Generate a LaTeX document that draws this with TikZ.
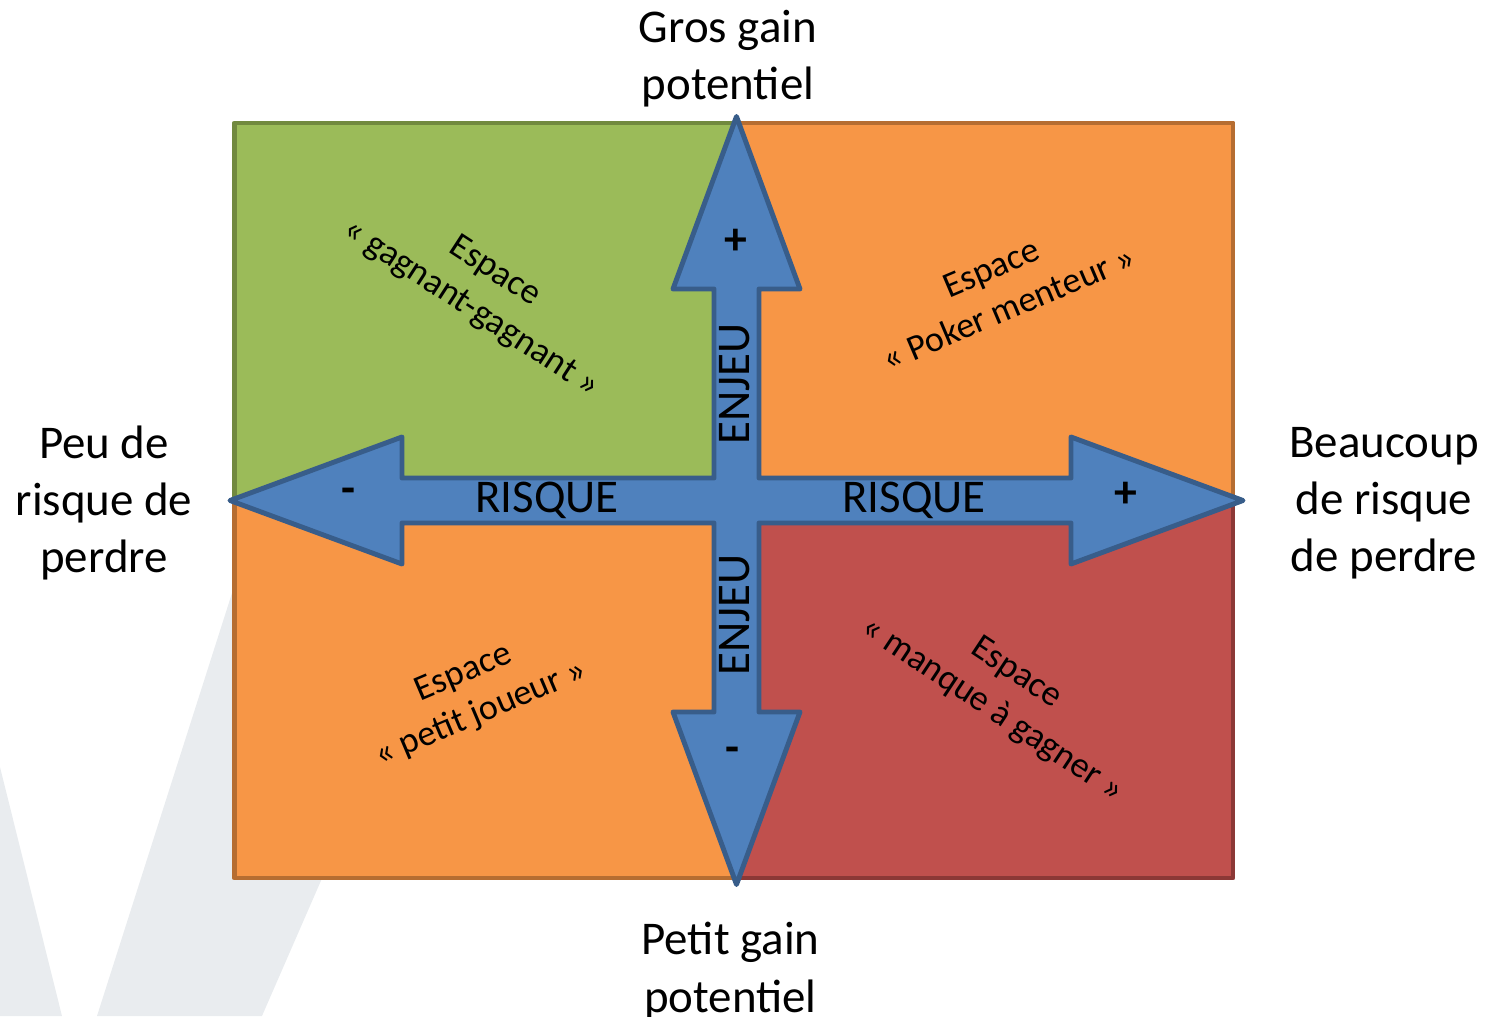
\documentclass[tikz,border=0pt]{standalone}
\usepackage{fontspec}
\setmainfont{Carlito}
\usepackage{tikz}
\usetikzlibrary{calc, positioning}
\usepackage{xcolor}

\definecolor{vert}{HTML}{9BBB59}
\definecolor{vertbord}{HTML}{71893F}
\definecolor{orange}{HTML}{F79646}
\definecolor{orangebord}{HTML}{B66D31}
\definecolor{rouge}{HTML}{C0504D}
\definecolor{rougebord}{HTML}{8C3836}
\definecolor{bleu}{HTML}{4F81BD}
\definecolor{bleubord}{HTML}{385D8A}
\definecolor{filigrane}{RGB}{233,236,239}

\begin{document}
\begin{tikzpicture}[line join=round]
				\tikzstyle{zone} = [line width=2.8pt]
				\tikzstyle{fleche} = [line width=2.8pt, fill=bleu, draw=bleubord]
				\tikzstyle{grand} = [draw=none, align=center, font=\fontsize{26.7}{32.5}\selectfont]
				\tikzstyle{axe} = [draw=none, font=\fontsize{26.7}{32.5}\selectfont]
				\tikzstyle{signe} = [draw=none, font=\fontsize{26}{30}\selectfont\bfseries]
				\tikzstyle{espace} = [draw=none, align=center, font=\fontsize{20.5}{25}\selectfont]
				
				\useasboundingbox (-14.73,-10.31) rectangle (15.15,10.01);
				
				% filigrane
				\fill[filigrane] (-14.73,-5.33) -- (-13.49,-10.31) -- (-14.73,-10.31) -- cycle;
				\fill[filigrane] (-10.07,-1.79) -- (-12.79,-10.31) -- (-9.49,-10.31) -- (-8.13,-7.19) -- (-6.73,-1.99) -- cycle;
				
				% les quatre espaces
				\filldraw[zone, fill=vert, draw=vertbord]		(-10.04,0) rectangle (0,7.55);
				\filldraw[zone, fill=orange, draw=orangebord]	(0,-0.1) rectangle (9.93,7.55);
				\filldraw[zone, fill=orange, draw=orangebord]	(-10.04,-7.55) rectangle (0,0);
				\filldraw[zone, fill=rouge, draw=rougebord]		(0,-7.55) rectangle (9.93,-0.1);
				
				% la croix
				\filldraw[fleche] (0,7.68) -- (1.27,4.23) -- (0.45,4.23) -- (0.45,0.45) -- (6.69,0.45) -- (6.69,1.27)
					-- (10.13,0) -- (6.69,-1.27) -- (6.69,-0.45) -- (0.45,-0.45) -- (0.45,-4.23) -- (1.27,-4.23)
					-- (0,-7.68) -- (-1.27,-4.23) -- (-0.45,-4.23) -- (-0.45,-0.45) -- (-6.69,-0.45) -- (-6.69,-1.27)
					-- (-10.13,0) -- (-6.69,1.27) -- (-6.69,0.45) -- (-0.45,0.45) -- (-0.45,4.23) -- (-1.27,4.23) -- cycle;
				
				\node[axe]					at (-3.79,0)		(rg)	{RISQUE};
				\node[axe]					at (3.55,0)			(rd)	{RISQUE};
				\node[axe, rotate=90]		at (-0.03,2.33)		(eh)	{ENJEU};
				\node[axe, rotate=90]		at (-0.03,-2.29)	(eb)	{ENJEU};
				\node[signe]				at (-0.02,5.18)		(ph)	{+};
				\node[signe]				at (7.78,0.11)		(pd)	{+};
				\node[signe]				at (-7.77,0.09)		(mg)	{-};
				\node[signe]				at (-0.09,-5.09)	(mb)	{-};
				
				\node[grand]				at (-0.17,8.83)		(haut)	{Gros gain\\potentiel};
				\node[grand]				at (-0.12,-9.41)	(bas)	{Petit gain\\potentiel};
				\node[grand]				at (-12.65,-0.05)	(gauche)	{Peu de\\risque de\\perdre};
				\node[grand]				at (12.95,-0.05)	(droite)	{Beaucoup\\de risque\\de perdre};
				
				\node[espace, rotate=-33]	at (-5.08,4.2)		(q1)	{Espace\\« gagnant-gagnant »};
				\node[espace, rotate=23]	at (5.27,4.25)		(q2)	{Espace\\« Poker menteur »};
				\node[espace, rotate=23]	at (-5.28,-3.87)	(q3)	{Espace\\« petit joueur »};
				\node[espace, rotate=-33.5]	at (5.35,-3.83)		(q4)	{Espace\\« manque à gagner »};
			\end{tikzpicture}
\end{document}
